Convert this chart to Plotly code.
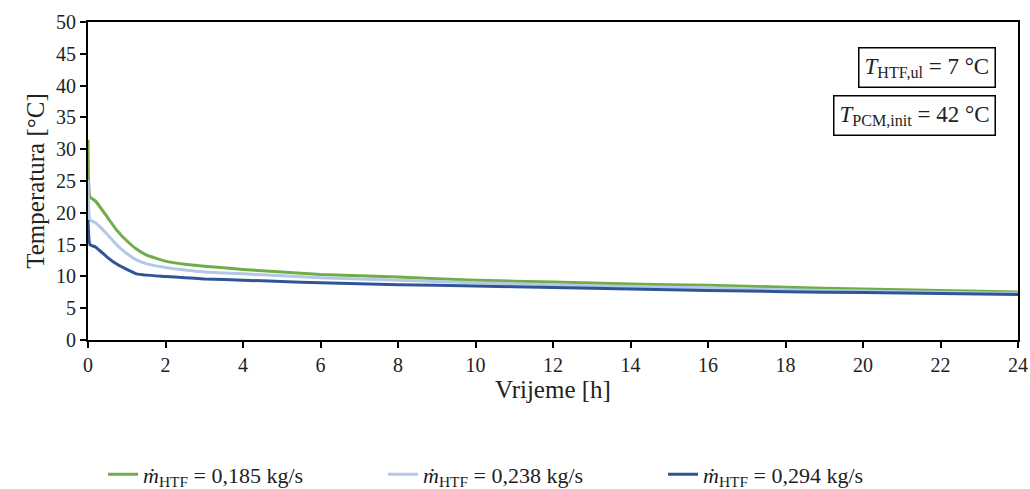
import plotly.graph_objects as go

time_h = [0, 0.05, 0.2, 0.5, 0.75, 1, 1.25, 1.5, 2, 2.5, 3, 4, 5, 6, 8, 10, 12, 14, 16, 18, 20, 22, 24]
temp_0185 = [31.5, 22.5, 21.8, 19.3, 17.2, 15.6, 14.3, 13.4, 12.4, 11.9, 11.6, 11.1, 10.7, 10.3, 9.9, 9.4, 9.1, 8.8, 8.6, 8.3, 8.0, 7.8, 7.55]
temp_0238 = [25.2, 18.9, 18.4, 16.6, 14.9, 13.6, 12.6, 12.0, 11.4, 11.0, 10.7, 10.4, 10.1, 9.8, 9.4, 9.0, 8.7, 8.4, 8.2, 7.9, 7.7, 7.5, 7.35]
temp_0294 = [18.9, 15.0, 14.6, 13.0, 11.9, 11.1, 10.4, 10.2, 10.0, 9.8, 9.6, 9.4, 9.2, 9.0, 8.7, 8.5, 8.25, 8.0, 7.8, 7.6, 7.45, 7.3, 7.15]

series_names = [
    "<i>ṁ</i><sub>HTF</sub> = 0,185 kg/s",
    "<i>ṁ</i><sub>HTF</sub> = 0,238 kg/s",
    "<i>ṁ</i><sub>HTF</sub> = 0,294 kg/s",
]
series_colors = ["#70AD47", "#B4C7E7", "#2F5597"]

x_ticks = list(range(0, 25, 2))
y_ticks = list(range(0, 51, 5))

FF = "Liberation Serif"
TXT = "#222222"

fig = go.Figure()
for name, vals, col in zip(series_names, [temp_0185, temp_0238, temp_0294], series_colors):
    fig.add_trace(go.Scatter(x=time_h, y=vals, mode="lines", name=name,
                             line=dict(color=col, width=3, shape="spline", smoothing=0.4)))

axis_common = dict(ticks="outside", ticklen=6, tickwidth=2, tickcolor="black",
                   showline=True, linecolor="black", linewidth=2, mirror=True,
                   showgrid=False, zeroline=False,
                   tickfont=dict(family=FF, size=20, color=TXT))

fig.update_layout(
    width=1030, height=489,
    margin=dict(l=88, r=12, t=22, b=149, autoexpand=False),
    plot_bgcolor="white", paper_bgcolor="white",
    font=dict(family=FF, size=20, color=TXT),
    showlegend=True,
    legend=dict(orientation="h", xref="container", x=0.1, xanchor="left",
                yref="container", y=0.03, yanchor="middle",
                font=dict(size=22, family=FF, color=TXT), itemwidth=30, tracegroupgap=0,
                entrywidthmode="pixels", entrywidth=235),
    xaxis=dict(range=[0, 24], tickvals=x_ticks, **axis_common,
               title=dict(text="Vrijeme [h]", font=dict(size=25, family=FF, color=TXT), standoff=0)),
    yaxis=dict(range=[0, 50], tickvals=y_ticks, **axis_common,
               title=dict(text="Temperatura [°C]", font=dict(size=25, family=FF, color=TXT), standoff=4)),
)

fig.add_annotation(xref="paper", yref="paper", x=0.976, y=0.921, xanchor="right", yanchor="top",
                   text="<i>T</i><sub>HTF,ul</sub> = 7 °C", showarrow=False,
                   font=dict(size=23, family=FF, color=TXT),
                   bordercolor="black", borderwidth=1.5, borderpad=5, bgcolor="white")
fig.add_annotation(xref="paper", yref="paper", x=0.976, y=0.77, xanchor="right", yanchor="top",
                   text="<i>T</i><sub>PCM,init</sub> = 42 °C", showarrow=False,
                   font=dict(size=23, family=FF, color=TXT),
                   bordercolor="black", borderwidth=1.5, borderpad=5, bgcolor="white")

fig.write_html("out.html", config={"displayModeBar": False},
               post_script="document.body.style.margin='0';document.body.style.overflow='hidden';")
